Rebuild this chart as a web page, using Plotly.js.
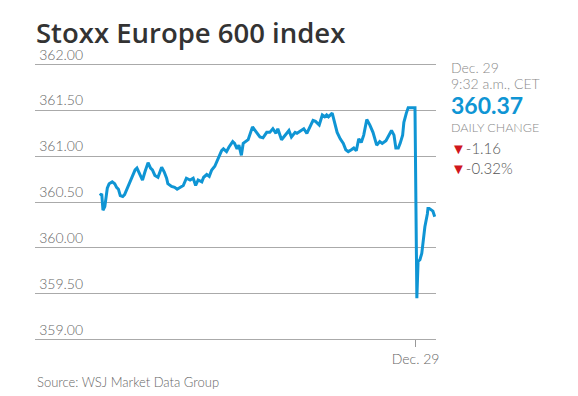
<!DOCTYPE html>
<html>
<head>
<meta charset="utf-8">
<script src="https://cdn.plot.ly/plotly-3.0.1.min.js"></script>
<style>html,body{margin:0;padding:0;background:#fff;}#chart{width:578px;height:396px;}</style>
</head>
<body>
<div id="chart"></div>
<script>
// Minutes since the Dec. 28 open (Dec. 29 session starts at minute 511)
const minutes = [0,3,5,8,12,15,20,24,27,30,33,37,40,43,49,53,57,60,65,69,73,78,82,85,89,94,100,104,108,110,116,121,125,129,135,140,146,151,155,159,165,168,173,177,181,186,191,197,200,205,209,215,218,222,225,229,232,236,240,247,253,259,264,270,275,280,285,288,294,299,306,310,316,319,325,330,335,340,345,349,355,360,364,367,370,376,380,384,389,394,398,402,407,411,415,419,423,427,432,437,442,448,453,457,463,468,472,476,479,483,486,490,492,496,499,510,513,515,518,521,523,526,530,531,533,537,539,542];
const index = [360.57,360.59,360.41,360.45,360.65,360.70,360.72,360.70,360.66,360.64,360.57,360.56,360.58,360.63,360.72,360.79,360.85,360.87,360.79,360.74,360.83,360.93,360.87,360.85,360.79,360.77,360.88,360.83,360.76,360.70,360.67,360.66,360.64,360.66,360.68,360.76,360.74,360.76,360.68,360.74,360.72,360.77,360.80,360.78,360.85,360.89,360.97,361.06,361.08,361.05,361.10,361.16,361.14,361.08,361.12,361.01,361.14,361.16,361.18,361.32,361.26,361.21,361.20,361.26,361.26,361.30,361.25,361.30,361.18,361.22,361.28,361.21,361.26,361.25,361.28,361.30,361.25,361.33,361.39,361.38,361.34,361.45,361.43,361.45,361.43,361.47,361.37,361.26,361.19,361.14,361.07,361.05,361.07,361.09,361.06,361.19,361.15,361.23,361.40,361.34,361.26,361.12,361.16,361.14,361.17,361.23,361.28,361.23,361.09,361.09,361.14,361.23,361.37,361.47,361.53,361.53,359.45,359.85,359.87,359.94,360.06,360.23,360.37,360.43,360.43,360.41,360.40,360.34];
const yTicks = [359, 359.5, 360, 360.5, 361, 361.5, 362];
const yTickText = ['359.00','359.50','360.00','360.50','361.00','361.50','362.00'];
const xTickVals = [511];
const xTickText = ['Dec. 29'];
const titleText = 'Stoxx Europe 600 index';
const sourceText = 'Source: WSJ Market Data Group';
const sideDate = 'Dec. 29';
const sideTime = '9:32 a.m., CET';
const lastValue = '360.37';
const changeLabel = 'DAILY CHANGE';
const changePts = '-1.16';
const changePct = '-0.32%';

const BLUE = '#0f95d4';
const GREY = '#8a8a8a';
const LF = 'Lato, "Open Sans", sans-serif';
const Y_RANGE = [358.95, 362.05];

const trace = {
  x: minutes, y: index, type: 'scatter', mode: 'lines',
  line: {color: BLUE, width: 3, shape: 'linear'},
  hoverinfo: 'skip'
};
// empty trace so the label-only overlay axis is drawn
const labelTrace = {x: [], y: [], type: 'scatter', mode: 'lines', yaxis: 'y2', hoverinfo: 'skip'};

// plot area: top 60px, height 284px
function py(px) { return (344 - px) / 284; }

function sideNote(text, px, size, color, weight) {
  return {text: text, xref: 'paper', yref: 'paper', x: 1, xshift: 13, xanchor: 'left',
          y: py(px), yanchor: 'middle', showarrow: false,
          font: {family: LF, size: size, weight: weight, color: color}};
}

const layout = {
  width: 578, height: 396,
  margin: {l: 35, r: 142, t: 60, b: 52, pad: 0},
  paper_bgcolor: '#fff', plot_bgcolor: '#fff',
  showlegend: false,
  title: {
    text: titleText, xref: 'container', yref: 'container',
    x: 36/578, xanchor: 'left', y: 1 - 33.5/396, yanchor: 'middle',
    font: {family: '"Open Sans", sans-serif', size: 27.5, weight: 600, color: '#333'}
  },
  xaxis: {
    range: [-105, 544], anchor: 'free', position: py(339.4),
    showgrid: false, zeroline: false, showline: false,
    tickvals: xTickVals, ticktext: xTickText,
    ticks: 'outside', ticklen: 7, tickcolor: '#999', tickwidth: 1,
    tickfont: {family: LF, size: 14, weight: 300, color: '#666'},
    fixedrange: true
  },
  yaxis: {
    range: Y_RANGE, tickvals: yTicks, showticklabels: false,
    showgrid: true, gridcolor: '#aaa', gridwidth: 1,
    zeroline: false, showline: false, ticks: '', fixedrange: true
  },
  yaxis2: {
    range: Y_RANGE, overlaying: 'y', anchor: 'free', position: 0.12, side: 'left',
    tickvals: yTicks, ticktext: yTickText,
    ticklabelposition: 'outside top',
    showgrid: false, zeroline: false, showline: false, ticks: '',
    tickfont: {family: LF, size: 14, weight: 300, color: '#666'},
    fixedrange: true
  },
  annotations: [
    sideNote(sideDate, 67.5, 14, GREY, 300),
    sideNote(sideTime, 83.5, 14, GREY, 300),
    sideNote('<b>' + lastValue + '</b>', 105, 23, BLUE, 400),
    sideNote(changeLabel, 127.5, 12.5, GREY, 300),
    sideNote('<span style="color:#d0161d">▼</span>' + changePts, 148, 15, '#555', 300),
    sideNote('<span style="color:#d0161d">▼</span>' + changePct, 168, 15, '#555', 300),
    {text: sourceText, xref: 'paper', yref: 'paper', x: 0, xanchor: 'left', y: py(382), yanchor: 'middle',
     showarrow: false, font: {family: LF, size: 13, weight: 300, color: '#666'}}
  ]
};

Plotly.newPlot('chart', [trace, labelTrace], layout, {displayModeBar: false, staticPlot: true});
</script>
</body>
</html>
